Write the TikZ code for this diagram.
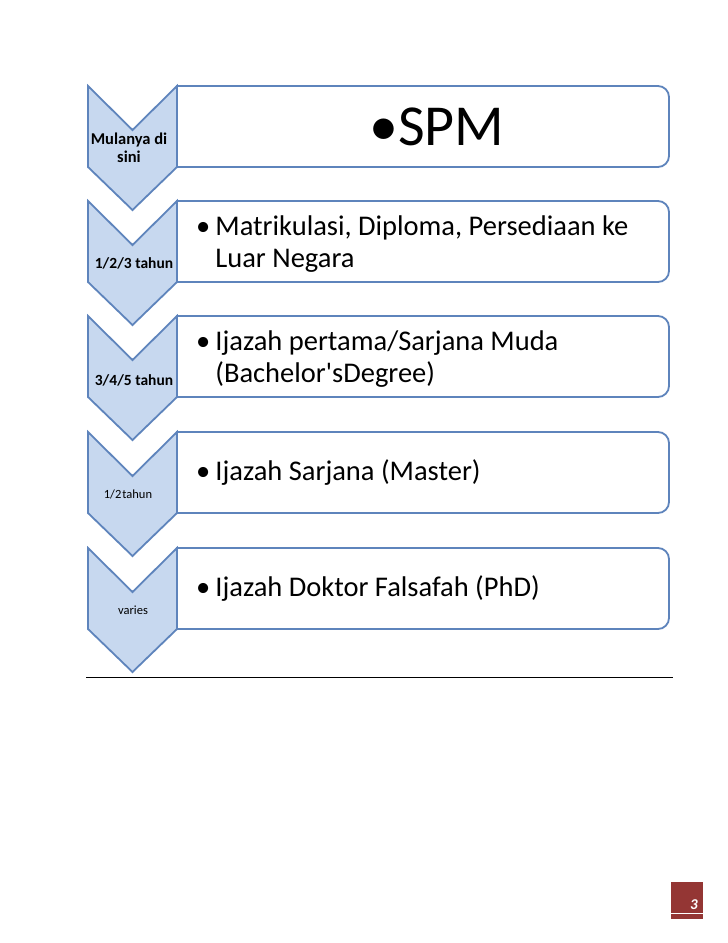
\documentclass[tikz,border=0pt]{standalone}
\usepackage{fontspec}
\setmainfont{Carlito}
\definecolor{chevfill}{RGB}{199,216,239}
\definecolor{chevline}{RGB}{94,132,188}
\definecolor{pgred}{RGB}{148,54,52}
\begin{document}
\frenchspacing
\begin{tikzpicture}[x=1pt,y=-1pt,
  chev/.style={draw=chevline,fill=chevfill,line width=1.8pt,line join=miter},
  stagebox/.style={draw=chevline,fill=white,line width=1.8pt},
  chevtext/.style={font=\fontsize{15.5}{18}\selectfont\bfseries,align=center,text=black},
  chevsmall/.style={font=\fontsize{12.5}{14}\selectfont,align=center,text=black},
  boxtext/.style={font=\fontsize{28.5}{32}\selectfont,anchor=base west,inner sep=0pt,text=black},
]
\useasboundingbox (0,0) rectangle (728,943);
\fill[white] (0,0) rectangle (728,943);

% boxes
\foreach \t/\n in {86/b1,201/b2,316/b3,432/b4,548/b5}{
  \draw[stagebox] (177,\t) -- (600,\t) [rounded corners=11pt] -- (669,\t) -- (669,\t+81) -- (600,\t+81) [sharp corners] -- (177,\t+81) -- cycle;
  \coordinate (\n) at (177,\t);
}
% chevrons
\foreach \t/\n in {86/c1,201/c2,316/c3,432/c4,548/c5}{
  \draw[chev] (88,\t) -- (132.5,\t+44) -- (177,\t) -- (177,\t+81) -- (132.5,\t+124) -- (88,\t+81) -- cycle;
  \coordinate (\n) at (132.5,\t);
}

\node[font=\fontsize{58}{60}\selectfont] (t1) at (437,127) {\textbullet SPM};
\node[boxtext] (t2) at (196,235) {\begin{tabular}[t]{@{}l@{\hspace{5pt}}l@{}}\textbullet & Matrikulasi, Diploma, Persediaan ke\\ & Luar Negara\end{tabular}};
\node[boxtext] (t3) at (196,350) {\begin{tabular}[t]{@{}l@{\hspace{5pt}}l@{}}\textbullet & Ijazah pertama/Sarjana Muda\\ & (Bachelor\textquotesingle sDegree)\end{tabular}};
\node[boxtext] (t4) at (196,480) {\begin{tabular}[t]{@{}l@{\hspace{5pt}}l@{}}\textbullet & Ijazah Sarjana (Master)\end{tabular}};
\node[boxtext] (t5) at (196,596) {\begin{tabular}[t]{@{}l@{\hspace{5pt}}l@{}}\textbullet & Ijazah Doktor Falsafah (PhD)\end{tabular}};

\node[chevtext,font=\fontsize{16.5}{18}\selectfont\bfseries] (l1) at (129,148) {Mulanya di\\sini};
\node[chevtext] (l2) at (134,263) {1/2/3 tahun};
\node[chevtext] (l3) at (134,380) {3/4/5 tahun};
\node[chevsmall] (l4) at (128,494) {1/2\hspace{1pt}tahun};
\node[chevsmall] (l5) at (133,610) {varies};

% bottom rule
\coordinate (r1) at (86,677);
\coordinate (r2) at (673,677);
\draw[line width=1pt] (r1) -- (r2);

% page number
\fill[pgred] (671,882) rectangle (703,919);
\draw[white,line width=1pt] (671,913) -- (703,913);
\node[text=white,font=\fontsize{15}{16}\selectfont\bfseries\itshape] (pg) at (694,905) {3};
\end{tikzpicture}
\end{document}
